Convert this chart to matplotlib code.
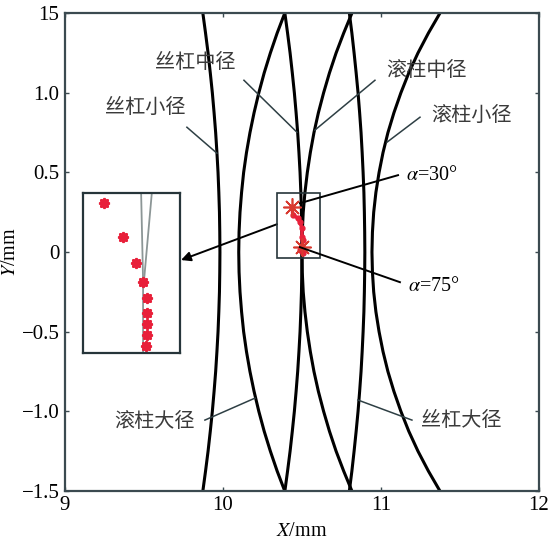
import matplotlib.pyplot as plt
from matplotlib.patches import Rectangle

plt.rcParams['font.family'] = ['Liberation Serif', 'DejaVu Serif']
plt.rcParams['mathtext.fontset'] = 'stix'

# profile curves, x read at these y positions (mm)
y_pts = [-1.5, -1.375, -1.25, -1.125, -1.0, -0.875, -0.75, -0.625, -0.5, -0.375, -0.25, -0.125, 0.0,
         0.125, 0.25, 0.375, 0.5, 0.625, 0.75, 0.875, 1.0, 1.125, 1.25, 1.375, 1.5]
screw_minor = [9.873, 9.890, 9.906, 9.920, 9.933, 9.944, 9.954, 9.962, 9.969, 9.974, 9.978, 9.980, 9.981,
               9.980, 9.978, 9.974, 9.969, 9.962, 9.954, 9.944, 9.933, 9.920, 9.906, 9.890, 9.873]
screw_mid = [10.392, 10.409, 10.425, 10.439, 10.452, 10.463, 10.473, 10.481, 10.488, 10.493, 10.497, 10.499, 10.500,
             10.499, 10.497, 10.493, 10.488, 10.481, 10.473, 10.463, 10.452, 10.439, 10.425, 10.409, 10.392]
screw_major = [10.800, 10.816, 10.830, 10.843, 10.855, 10.865, 10.874, 10.881, 10.887, 10.892, 10.895, 10.897, 10.898,
               10.897, 10.895, 10.892, 10.887, 10.881, 10.874, 10.865, 10.855, 10.843, 10.830, 10.816, 10.800]
roller_major = [10.391, 10.343, 10.300, 10.261, 10.227, 10.197, 10.171, 10.149, 10.131, 10.118, 10.108, 10.102, 10.100,
                10.102, 10.108, 10.118, 10.131, 10.149, 10.171, 10.197, 10.227, 10.261, 10.300, 10.343, 10.391]
roller_mid = [10.816, 10.764, 10.716, 10.674, 10.637, 10.604, 10.576, 10.553, 10.534, 10.519, 10.508, 10.502, 10.500,
              10.502, 10.508, 10.519, 10.534, 10.553, 10.576, 10.604, 10.637, 10.674, 10.716, 10.764, 10.816]
roller_minor = [11.373, 11.300, 11.234, 11.176, 11.126, 11.082, 11.044, 11.013, 10.988, 10.968, 10.954, 10.946, 10.943,
                10.946, 10.954, 10.968, 10.988, 11.013, 11.044, 11.082, 11.126, 11.176, 11.234, 11.300, 11.373]

# contact point track between alpha=30 and alpha=75
track_x = [10.437, 10.443, 10.475, 10.487, 10.500, 10.500, 10.506, 10.500, 10.487, 10.506]
track_y = [0.282, 0.232, 0.213, 0.188, 0.150, 0.094, 0.075, 0.031, 0.012, -0.007]
star_x = [10.437, 10.500]
star_y = [0.282, 0.031]

# labels: text, text pos, leader start, leader end
labels = ['丝杠小径', '丝杠中径', '滚柱中径', '滚柱小径', '滚柱大径', '丝杠大径']
label_pos = [(9.506, 0.91), (9.823, 1.19), (11.29, 1.14), (11.57, 0.86), (9.57, -1.065), (11.506, -1.055)]
leader_from = [(9.772, 0.784), (10.133, 1.079), (10.962, 1.079), (11.247, 0.847), (9.886, -1.055), (11.196, -1.055)]
leader_to = [(9.962, 0.621), (10.468, 0.753), (10.582, 0.766), (11.038, 0.690), (10.203, -0.917), (10.854, -0.929)]

xticks = [9, 10, 11, 12]
yticks = [-1.5, -1.0, -0.5, 0, 0.5, 1.0, 1.5]
yticklabels = ['\u22121.5', '\u22121.0', '\u22120.5', '0', '0.5', '1.0', '15']

# inset (enlarged view)
inset_pts_x = [10.443, 10.482, 10.509, 10.524, 10.532, 10.532, 10.532, 10.532, 10.530]
inset_pts_y = [0.325, 0.240, 0.177, 0.127, 0.088, 0.050, 0.023, -0.005, -0.033]
inset_line1_x = [10.520, 10.524, 10.524]
inset_line1_y = [0.35, 0.1325, -0.05]
inset_line2_x = [10.542, 10.526]
inset_line2_y = [0.35, 0.1325]

frame = '#3b4a50'
red = '#e8203a'

fig = plt.figure(figsize=(5.5, 5.51), dpi=100)
ax = fig.add_axes([0.118, 0.109, 0.862, 0.867])

for xs in [screw_minor, screw_mid, screw_major, roller_major, roller_mid, roller_minor]:
    ax.plot(xs, y_pts, color='black', lw=2.2, solid_capstyle='butt')

ax.add_patch(Rectangle((10.342, -0.038), 0.272, 0.408, fill=False, ec='#26353a', lw=1.2, zorder=4))
ax.plot(track_x, track_y, color=red, lw=2.5, marker='o', ms=3.5, zorder=5)
ax.plot(star_x, star_y, ls='none', marker=(8, 2, 0), ms=13, mew=1.2, mec='#d83a30', zorder=6)

for t, p, a, b in zip(labels, label_pos, leader_from, leader_to):
    ax.text(p[0], p[1], t, family=['Noto Sans CJK SC'], fontsize=14.5, color='#3a3a3a',
            ha='center', va='center')
    ax.plot([a[0], b[0]], [a[1], b[1]], color='#2e3f44', lw=1.1)

# alpha annotations
ax.plot([10.487, 11.108], [0.307, 0.483], color='black', lw=1.4, zorder=6)
ax.text(11.16, 0.48, r'$\alpha$=30°', fontsize=14.5, ha='left', va='center')
ax.plot([10.487, 11.12], [0.031, -0.189], color='black', lw=1.4, zorder=6)
ax.text(11.17, -0.215, r'$\alpha$=75°', fontsize=14.5, ha='left', va='center')

ax.annotate('', xy=(9.735, -0.05), xytext=(10.342, 0.175),
            arrowprops=dict(arrowstyle='-|>', color='black', lw=1.4, mutation_scale=14,
                            shrinkA=0, shrinkB=0))

ax.set_xlim(9, 12)
ax.set_ylim(-1.5, 1.5)
ax.set_xticks(xticks)
ax.set_yticks(yticks)
ax.set_yticklabels(yticklabels)
ax.tick_params(direction='in', length=3, width=1, top=True, right=True,
               labelsize=15, color=frame, pad=4)
for s in ax.spines.values():
    s.set_color(frame)
    s.set_linewidth(1.6)
ax.set_xlabel('$X$/mm', fontsize=14.5, labelpad=5)
ax.set_ylabel('$Y$/mm', fontsize=14.5, labelpad=1)

# enlarged view
ins = fig.add_axes([0.151, 0.359, 0.176, 0.290])
ins.plot(inset_line1_x, inset_line1_y, color='#8c9696', lw=1.3)
ins.plot(inset_line2_x, inset_line2_y, color='#8c9696', lw=1.3)
ins.plot(inset_pts_x, inset_pts_y, ls='none', marker='o', ms=6, color=red)
ins.plot(inset_pts_x, inset_pts_y, ls='none', marker=(8, 2, 0), ms=8, mew=1.3, mec=red)
ins.set_xlim(10.40, 10.60)
ins.set_ylim(-0.05, 0.35)
ins.set_xticks([])
ins.set_yticks([])
for s in ins.spines.values():
    s.set_color('#26353a')
    s.set_linewidth(1.6)

fig.savefig('out.png', dpi=100)
